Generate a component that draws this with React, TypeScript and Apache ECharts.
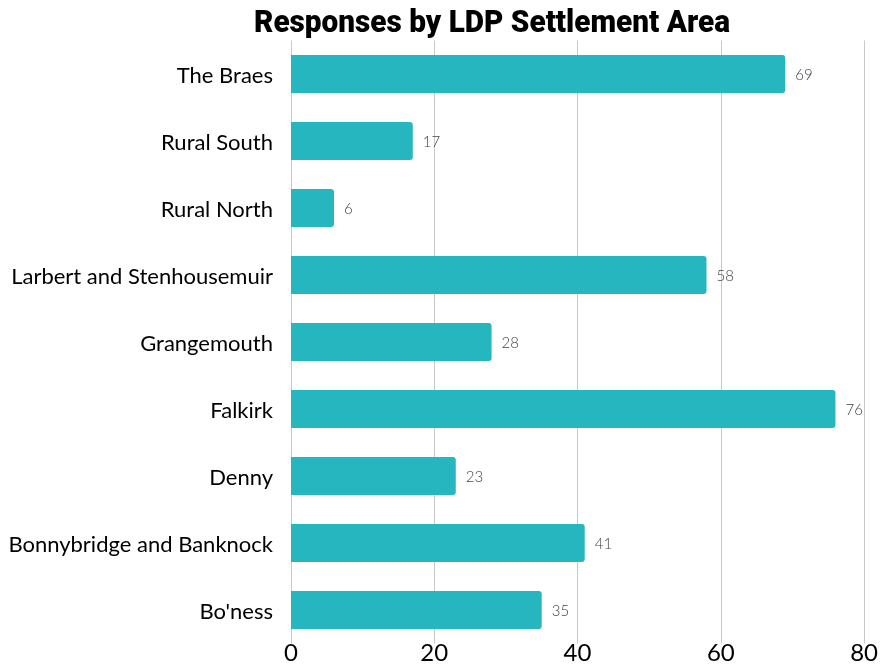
import React, { useEffect, useRef } from "react";
import * as echarts from "echarts";

const categories = [
  "Bo'ness",
  "Bonnybridge and Banknock",
  "Denny",
  "Falkirk",
  "Grangemouth",
  "Larbert and Stenhousemuir",
  "Rural North",
  "Rural South",
  "The Braes",
];
const responses = [35, 41, 23, 76, 28, 58, 6, 17, 69];
const xTicks = [0, 20, 40, 60, 80];
const titleText = "Responses by LDP Settlement Area";

export default function App() {
  const ref = useRef<HTMLDivElement>(null);
  useEffect(() => {
    if (!ref.current) return;
    const chart = echarts.init(ref.current, undefined, { renderer: "svg" });
    chart.setOption({
      animation: false,
      graphic: [
        {
          type: "text",
          x: 492,
          y: 5,
          scaleX: 0.93,
          style: {
            text: titleText,
            fontFamily: "Roboto, sans-serif",
            fontWeight: 900,
            fontSize: 32,
            lineHeight: 32,
            fill: "#000",
            textAlign: "center",
            textVerticalAlign: "top",
          },
        },
      ],
      grid: { left: 291, right: 16, top: 40.5, bottom: 21.5, containLabel: false },
      xAxis: {
        type: "value",
        min: xTicks[0],
        max: xTicks[xTicks.length - 1],
        interval: 20,
        axisLine: { show: false },
        axisTick: { show: false },
        splitLine: { show: true, lineStyle: { color: "#c8c8c8", width: 1 } },
        axisLabel: {
          fontFamily: "Lato, sans-serif",
          fontSize: 24,
          lineHeight: 24,
          color: "#000",
          margin: -4,
          verticalAlign: "top",
        },
      },
      yAxis: {
        type: "category",
        data: categories,
        axisLine: { show: false },
        axisTick: { show: false },
        axisLabel: {
          fontFamily: "Lato, sans-serif",
          fontSize: 22,
          color: "#000",
          margin: 18,
        },
      },
      series: [
        {
          type: "bar",
          data: responses,
          barWidth: 38,
          itemStyle: { color: "#25b6c0", borderRadius: [0, 3, 3, 0] },
          label: {
            show: true,
            position: "right",
            distance: 10,
            fontFamily: "Lato, sans-serif",
            fontWeight: 300,
            fontSize: 15,
            color: "#444",
          },
        },
      ],
    });
    return () => chart.dispose();
  }, []);
  return (
    <div
      ref={ref}
      style={{ position: "fixed", left: 0, top: 0, width: 881, height: 665 }}
    />
  );
}
